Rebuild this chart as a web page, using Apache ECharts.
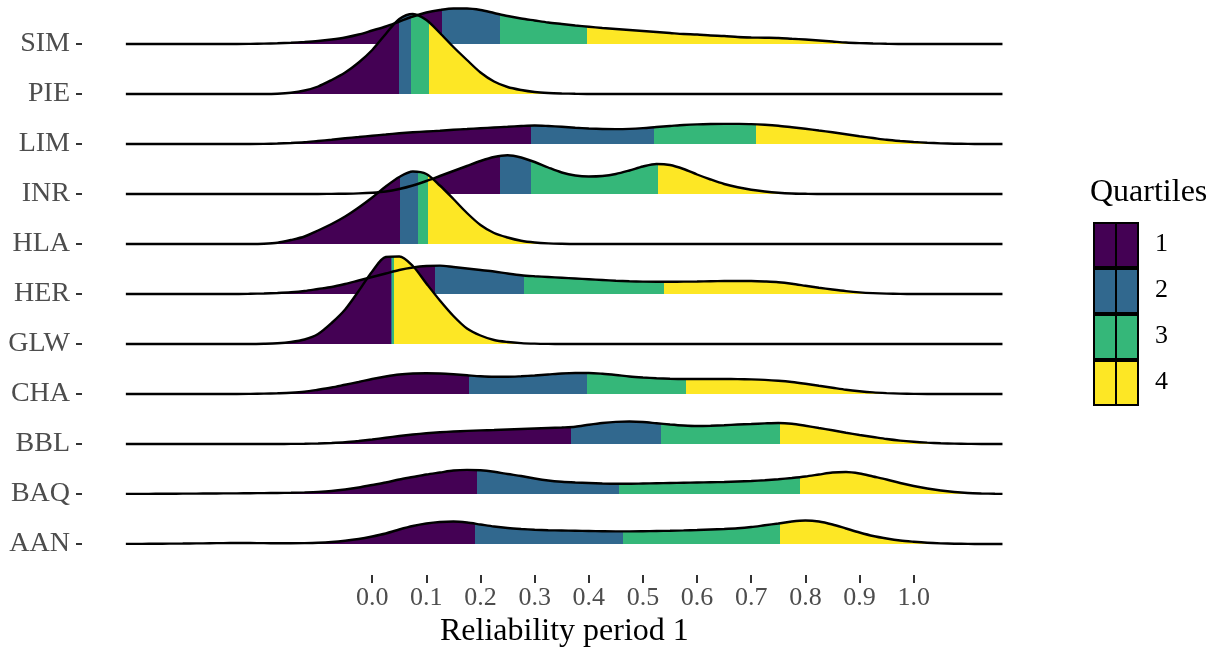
<!DOCTYPE html>
<html>
<head>
<meta charset="utf-8">
<script src="https://cdn.jsdelivr.net/npm/echarts@6/dist/echarts.min.js"></script>
<style>
  html, body { margin: 0; padding: 0; background: #fff; }
  #chart { width: 1218px; height: 652px; }
</style>
</head>
<body>
<div id="chart"></div>
<script>
// ridge names, bottom to top
const ridgeNames = ["AAN", "BAQ", "BBL", "CHA", "GLW", "HER", "HLA", "INR", "LIM", "PIE", "SIM"];

const xGrid = [
  -0.455, -0.425, -0.4, -0.375, -0.35, -0.325, -0.3, -0.275, -0.25, -0.225,
  -0.2, -0.175, -0.15, -0.125, -0.1, -0.075, -0.05, -0.025, 0, 0.025,
  0.05, 0.075, 0.1, 0.125, 0.15, 0.175, 0.2, 0.225, 0.25, 0.275,
  0.3, 0.325, 0.35, 0.375, 0.4, 0.425, 0.45, 0.475, 0.5, 0.525,
  0.55, 0.575, 0.6, 0.625, 0.65, 0.675, 0.7, 0.725, 0.75, 0.775,
  0.8, 0.825, 0.85, 0.875, 0.9, 0.925, 0.95, 0.975, 1.0, 1.025,
  1.05, 1.075, 1.1, 1.125, 1.15, 1.164
];

// ridge heights (1 = distance between two ridges)
const densAAN = [
  0.002, 0.003, 0.005, 0.007, 0.009, 0.012, 0.015, 0.018, 0.02, 0.019,
  0.017, 0.015, 0.015, 0.018, 0.025, 0.04, 0.065, 0.1, 0.15, 0.21,
  0.29, 0.36, 0.41, 0.44, 0.45, 0.43, 0.39, 0.35, 0.32, 0.3,
  0.285, 0.275, 0.27, 0.265, 0.26, 0.255, 0.252, 0.252, 0.255, 0.26,
  0.265, 0.272, 0.28, 0.29, 0.3, 0.315, 0.34, 0.375, 0.41, 0.45,
  0.47, 0.45, 0.39, 0.31, 0.23, 0.16, 0.11, 0.07, 0.045, 0.025,
  0.013, 0.006, 0.002, 0, 0, 0
];
const densBAQ = [
  0.002, 0.003, 0.004, 0.005, 0.007, 0.008, 0.01, 0.012, 0.013, 0.015,
  0.018, 0.02, 0.025, 0.032, 0.042, 0.06, 0.09, 0.13, 0.18, 0.23,
  0.29, 0.34, 0.39, 0.43, 0.47, 0.482, 0.475, 0.445, 0.4, 0.36,
  0.31, 0.27, 0.245, 0.23, 0.22, 0.21, 0.205, 0.205, 0.21, 0.215,
  0.22, 0.225, 0.23, 0.235, 0.24, 0.25, 0.26, 0.275, 0.295, 0.32,
  0.35, 0.39, 0.43, 0.44, 0.41, 0.35, 0.29, 0.22, 0.16, 0.11,
  0.07, 0.04, 0.02, 0.01, 0.004, 0.002
];
const densBBL = [
  0, 0, 0, 0, 0, 0, 0, 0, 0, 0,
  0, 0, 0.002, 0.005, 0.01, 0.02, 0.035, 0.06, 0.09, 0.125,
  0.16, 0.19, 0.215, 0.235, 0.25, 0.262, 0.272, 0.28, 0.29, 0.3,
  0.31, 0.32, 0.33, 0.345, 0.385, 0.42, 0.443, 0.45, 0.44, 0.415,
  0.39, 0.37, 0.36, 0.365, 0.375, 0.39, 0.4, 0.412, 0.42, 0.405,
  0.365, 0.32, 0.275, 0.225, 0.18, 0.14, 0.1, 0.068, 0.045, 0.028,
  0.015, 0.007, 0.003, 0, 0, 0
];
const densCHA = [
  0, 0, 0, 0, 0, 0, 0, 0, 0, 0.003,
  0.008, 0.015, 0.025, 0.045, 0.085, 0.13, 0.185, 0.24, 0.3, 0.35,
  0.39, 0.41, 0.415, 0.41, 0.395, 0.375, 0.355, 0.345, 0.345, 0.355,
  0.37, 0.39, 0.41, 0.42, 0.42, 0.405, 0.38, 0.35, 0.33, 0.315,
  0.305, 0.3, 0.3, 0.3, 0.3, 0.298, 0.292, 0.282, 0.265, 0.24,
  0.205, 0.165, 0.125, 0.085, 0.055, 0.032, 0.018, 0.008, 0.003, 0,
  0, 0, 0, 0, 0, 0
];
const densGLW = [
  0, 0, 0, 0, 0, 0, 0, 0, 0, 0,
  0.005, 0.015, 0.04, 0.09, 0.2, 0.42, 0.69, 1.06, 1.45, 1.74,
  1.75, 1.56, 1.21, 0.87, 0.56, 0.31, 0.17, 0.08, 0.04, 0.018,
  0.007, 0.002, 0, 0, 0, 0, 0, 0, 0, 0,
  0, 0, 0, 0, 0, 0, 0, 0, 0, 0,
  0, 0, 0, 0, 0, 0, 0, 0, 0, 0,
  0, 0, 0, 0, 0, 0
];
const densHER = [
  0, 0, 0, 0, 0, 0, 0, 0, 0, 0.004,
  0.01, 0.02, 0.035, 0.06, 0.1, 0.14, 0.2, 0.27, 0.34, 0.41,
  0.48, 0.53, 0.56, 0.568, 0.54, 0.51, 0.48, 0.45, 0.41, 0.375,
  0.355, 0.34, 0.325, 0.31, 0.295, 0.28, 0.265, 0.255, 0.248, 0.245,
  0.245, 0.247, 0.25, 0.255, 0.26, 0.262, 0.26, 0.25, 0.235, 0.205,
  0.165, 0.125, 0.09, 0.058, 0.033, 0.017, 0.007, 0.002, 0, 0,
  0, 0, 0, 0, 0, 0
];
const densHLA = [
  0, 0, 0, 0, 0, 0, 0, 0, 0, 0,
  0.005, 0.025, 0.08, 0.15, 0.27, 0.4, 0.55, 0.73, 0.93, 1.15,
  1.34, 1.45, 1.4, 1.17, 0.9, 0.62, 0.38, 0.22, 0.13, 0.065,
  0.03, 0.012, 0.004, 0, 0, 0, 0, 0, 0, 0,
  0, 0, 0, 0, 0, 0, 0, 0, 0, 0,
  0, 0, 0, 0, 0, 0, 0, 0, 0, 0,
  0, 0, 0, 0, 0, 0
];
const densINR = [
  0, 0, 0, 0, 0, 0, 0, 0, 0, 0,
  0, 0, 0, 0, 0, 0.003, 0.006, 0.012, 0.025, 0.05,
  0.1, 0.17, 0.26, 0.36, 0.46, 0.56, 0.66, 0.74, 0.775, 0.73,
  0.64, 0.53, 0.43, 0.37, 0.35, 0.36, 0.4, 0.47, 0.55, 0.6,
  0.58, 0.5, 0.39, 0.29, 0.2, 0.135, 0.085, 0.05, 0.025, 0.01,
  0.004, 0, 0, 0, 0, 0, 0, 0, 0, 0,
  0, 0, 0, 0, 0, 0
];
const densLIM = [
  0, 0, 0, 0, 0, 0, 0, 0, 0, 0,
  0.003, 0.01, 0.02, 0.035, 0.06, 0.085, 0.115, 0.14, 0.165, 0.19,
  0.215, 0.235, 0.25, 0.265, 0.285, 0.3, 0.315, 0.33, 0.345, 0.36,
  0.37, 0.36, 0.345, 0.325, 0.31, 0.3, 0.298, 0.303, 0.318, 0.34,
  0.36, 0.38, 0.393, 0.4, 0.403, 0.402, 0.398, 0.385, 0.365, 0.335,
  0.305, 0.27, 0.235, 0.195, 0.155, 0.12, 0.085, 0.06, 0.04, 0.025,
  0.013, 0.006, 0.002, 0, 0, 0
];
const densPIE = [
  0, 0, 0, 0, 0, 0, 0, 0, 0, 0,
  0, 0.005, 0.025, 0.07, 0.15, 0.28, 0.43, 0.63, 0.88, 1.2,
  1.5, 1.6, 1.48, 1.22, 0.94, 0.68, 0.43, 0.25, 0.14, 0.08,
  0.04, 0.02, 0.01, 0.004, 0, 0, 0, 0, 0, 0,
  0, 0, 0, 0, 0, 0, 0, 0, 0, 0,
  0, 0, 0, 0, 0, 0, 0, 0, 0, 0,
  0, 0, 0, 0, 0, 0
];
const densSIM = [
  0, 0, 0, 0, 0, 0, 0, 0, 0, 0.003,
  0.008, 0.015, 0.025, 0.04, 0.06, 0.09, 0.13, 0.19, 0.27, 0.35,
  0.45, 0.55, 0.63, 0.68, 0.71, 0.71, 0.68, 0.62, 0.56, 0.51,
  0.47, 0.43, 0.4, 0.37, 0.345, 0.32, 0.3, 0.28, 0.26, 0.24,
  0.22, 0.2, 0.19, 0.17, 0.16, 0.14, 0.13, 0.125, 0.12, 0.105,
  0.09, 0.07, 0.05, 0.03, 0.018, 0.01, 0.004, 0, 0, 0,
  0, 0, 0, 0, 0, 0
];

// quartile cut points and the ridge height at each cut
const quartAAN = [0.19, 0.463, 0.754],  quartTopAAN = [0.405, 0.252, 0.412];
const quartBAQ = [0.193, 0.456, 0.79],  quartTopBAQ = [0.477, 0.205, 0.338];
const quartBBL = [0.367, 0.533, 0.753], quartTopBBL = [0.34, 0.41, 0.42];
const quartCHA = [0.178, 0.396, 0.579], quartTopCHA = [0.372, 0.42, 0.3];
const quartGLW = [0.0345, 0.037, 0.0395], quartTopGLW = [1.75, 1.75, 1.75];
const quartHER = [0.116, 0.281, 0.538], quartTopHER = [0.567, 0.37, 0.245];
const quartHLA = [0.051, 0.085, 0.103], quartTopHLA = [1.35, 1.44, 1.39];
const quartINR = [0.236, 0.293, 0.528], quartTopINR = [0.765, 0.665, 0.6];
const quartLIM = [0.294, 0.52, 0.709],  quartTopLIM = [0.37, 0.335, 0.396];
const quartPIE = [0.049, 0.072, 0.104], quartTopPIE = [1.5, 1.6, 1.45];
const quartSIM = [0.128, 0.236, 0.396], quartTopSIM = [0.685, 0.595, 0.345];

const quartLabels = ["1", "2", "3", "4"];
const quartColors = ["#440154", "#31688E", "#35B779", "#FDE725"];

const ridges = [
  { dens: densAAN, q: quartAAN, top: quartTopAAN },
  { dens: densBAQ, q: quartBAQ, top: quartTopBAQ },
  { dens: densBBL, q: quartBBL, top: quartTopBBL },
  { dens: densCHA, q: quartCHA, top: quartTopCHA },
  { dens: densGLW, q: quartGLW, top: quartTopGLW },
  { dens: densHER, q: quartHER, top: quartTopHER },
  { dens: densHLA, q: quartHLA, top: quartTopHLA },
  { dens: densINR, q: quartINR, top: quartTopINR },
  { dens: densLIM, q: quartLIM, top: quartTopLIM },
  { dens: densPIE, q: quartPIE, top: quartTopPIE },
  { dens: densSIM, q: quartSIM, top: quartTopSIM }
];

const FONT = "Liberation Serif";
const PANEL_LEFT = 82, PANEL_RIGHT = 1042, PANEL_TOP = 4, PANEL_BOTTOM = 575;
const X_MIN = -0.536, X_MAX = 1.237;
const ROW0_Y = 544, ROW_STEP = 50;

function quartPieces(q) {
  return [
    { gte: -1, lt: q[0], color: quartColors[0] },
    { gte: q[0], lt: q[1], color: quartColors[1] },
    { gte: q[1], lt: q[2], color: quartColors[2] },
    { gte: q[2], lte: 2, color: quartColors[3] }
  ];
}

function quartLine(params, api) {
  const x = api.value(0);
  const p0 = api.coord([x, 0]);
  const p1 = api.coord([x, api.value(1)]);
  return {
    type: "line",
    shape: { x1: p0[0], y1: p0[1], x2: p1[0], y2: p1[1] },
    style: { stroke: "#000", lineWidth: 2.1 }
  };
}

const grids = [], xAxes = [], yAxes = [], series = [], visualMaps = [];

// grid 0: ridge names on the left
grids.push({ left: PANEL_LEFT, right: 1218 - PANEL_RIGHT, top: ROW0_Y - ROW_STEP * 10, bottom: 652 - ROW0_Y });
xAxes.push({ gridIndex: 0, type: "value", min: 0, max: 1, show: false });
yAxes.push({
  gridIndex: 0,
  type: "category",
  data: ridgeNames,
  boundaryGap: false,
  axisLine: { show: false },
  axisTick: { show: true, interval: 0, length: 6, lineStyle: { color: "#333333", width: 2 } },
  axisLabel: { interval: 0, margin: 12, color: "#4D4D4D", fontFamily: FONT, fontSize: 28 },
  splitLine: { show: false }
});

// grid 1: x ticks 0.0 .. 1.0
const x0 = PANEL_LEFT + (0 - X_MIN) / (X_MAX - X_MIN) * (PANEL_RIGHT - PANEL_LEFT);
const x1 = PANEL_LEFT + (1 - X_MIN) / (X_MAX - X_MIN) * (PANEL_RIGHT - PANEL_LEFT);
grids.push({ left: x0, right: 1218 - x1, top: PANEL_TOP, bottom: 652 - PANEL_BOTTOM });
xAxes.push({
  gridIndex: 1,
  type: "value",
  min: 0,
  max: 1,
  interval: 0.1,
  axisLine: { show: false },
  axisTick: { show: true, length: 8, lineStyle: { color: "#333333", width: 2 } },
  axisLabel: {
    margin: 10,
    color: "#4D4D4D",
    fontFamily: FONT,
    fontSize: 26,
    formatter: function (v) { return v.toFixed(1); }
  },
  splitLine: { show: false }
});
yAxes.push({ gridIndex: 1, type: "value", show: false });

// one grid per ridge, drawn from the top row down so lower ridges overlap
for (let k = ridges.length - 1; k >= 0; k--) {
  const r = ridges[k];
  const gi = grids.length;
  const baseY = ROW0_Y - ROW_STEP * k;
  grids.push({ left: PANEL_LEFT, right: 1218 - PANEL_RIGHT, top: PANEL_TOP, bottom: 652 - baseY });
  xAxes.push({ gridIndex: gi, type: "value", min: X_MIN, max: X_MAX, show: false });
  yAxes.push({ gridIndex: gi, type: "value", min: 0, max: (baseY - PANEL_TOP) / ROW_STEP, show: false });

  visualMaps.push({
    type: "piecewise",
    show: false,
    dimension: 0,
    seriesIndex: series.length,
    pieces: quartPieces(r.q)
  });
  series.push({
    name: ridgeNames[k],
    type: "line",
    xAxisIndex: gi,
    yAxisIndex: gi,
    data: xGrid.map(function (x, i) { return [x, r.dens[i]]; }),
    smooth: 0.3,
    symbol: "none",
    clip: false,
    silent: true,
    lineStyle: { color: "#000", width: 2.4 },
    areaStyle: { opacity: 1 }
  });
  series.push({
    type: "custom",
    xAxisIndex: gi,
    yAxisIndex: gi,
    data: r.q.map(function (q, i) { return [q, r.top[i]]; }),
    renderItem: quartLine,
    silent: true,
    clip: false
  });
}

// legend and axis title
const graphics = [];
graphics.push({
  type: "text",
  left: 1090,
  top: 177,
  style: { text: "Quartiles", fill: "#000", font: "32px \"" + FONT + "\"" }
});
quartColors.forEach(function (c, i) {
  const y = 223 + i * 46;
  graphics.push({
    type: "rect",
    shape: { x: 1094, y: y, width: 44, height: 44 },
    style: { fill: c, stroke: "#000", lineWidth: 2 }
  });
  graphics.push({
    type: "line",
    shape: { x1: 1116, y1: y + 1, x2: 1116, y2: y + 43 },
    style: { stroke: "#000", lineWidth: 2 }
  });
  graphics.push({
    type: "text",
    left: 1155,
    top: y + 8,
    style: { text: quartLabels[i], fill: "#000", font: "26px \"" + FONT + "\"" }
  });
});
graphics.push({
  type: "text",
  left: 440,
  top: 616,
  style: { text: "Reliability period 1", fill: "#000", font: "32px \"" + FONT + "\"" }
});

const chart = echarts.init(document.getElementById("chart"), null, { renderer: "canvas" });
chart.setOption({
  animation: false,
  backgroundColor: "#fff",
  grid: grids,
  xAxis: xAxes,
  yAxis: yAxes,
  visualMap: visualMaps,
  series: series,
  graphic: graphics
});
</script>
</body>
</html>
